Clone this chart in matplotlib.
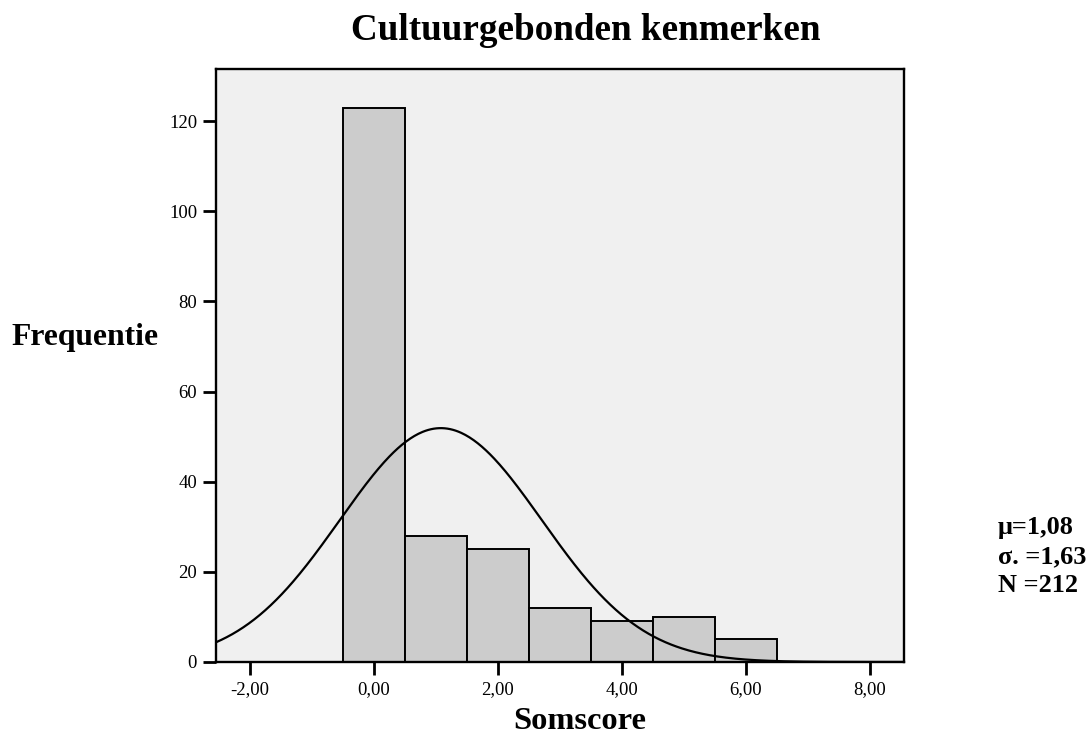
import numpy as np
import matplotlib
matplotlib.use("Agg")
import matplotlib.pyplot as plt

# data
bin_centers = [0, 1, 2, 3, 4, 5, 6]
counts = [123, 28, 25, 12, 9, 10, 5]
mu = 1.08
sigma = 1.63
n_total = 212
x_ticks = [-2, 0, 2, 4, 6, 8]
x_tick_labels = ["-2,00", "0,00", "2,00", "4,00", "6,00", "8,00"]
y_ticks = [0, 20, 40, 60, 80, 100, 120]
stats_lines = ["μ=1,08", "σ. =1,63", "N =212"]

plt.rcParams['font.family'] = ['Liberation Serif', 'DejaVu Serif']

W, H = 1090, 737
fig = plt.figure(figsize=(W / 100, H / 100), dpi=100)
ax = fig.add_axes([215.7 / W, 1 - 662 / H, (904 - 215.7) / W, (662 - 69.3) / H])
ax.set_facecolor('#F0F0F0')

ax.bar(bin_centers, counts, width=1.0, color='#CCCCCC', edgecolor='black', linewidth=1.4, zorder=2)

xs = np.linspace(-2.55, 8.55, 500)
ys = n_total * 1.0 / (sigma * np.sqrt(2 * np.pi)) * np.exp(-0.5 * ((xs - mu) / sigma) ** 2)
ax.plot(xs, ys, color='black', linewidth=1.6, zorder=3)

ax.set_xlim(-2.55, 8.55)
ax.set_ylim(0, 131.5)
ax.set_xticks(x_ticks)
ax.set_xticklabels(x_tick_labels)
ax.set_yticks(y_ticks)
ax.tick_params(axis='both', direction='out', length=9.4, width=2, labelsize=13.5, pad=4)
for s in ax.spines.values():
    s.set_linewidth(1.7)

fig.text(586 / W, 1 - 40 / H, "Cultuurgebonden kenmerken", ha='center', va='baseline',
         fontsize=26.7, fontweight='bold')
fig.text(85 / W, 1 - 345 / H, "Frequentie", ha='center', va='baseline',
         fontsize=22.8, fontweight='bold')
fig.text(580 / W, 1 - 729 / H, "Somscore", ha='center', va='baseline',
         fontsize=23.4, fontweight='bold')
for i, line in enumerate(stats_lines):
    fig.text(998 / W, 1 - (534 + 29 * i) / H, line, ha='left', va='baseline',
             fontsize=18.9, fontweight='bold')

fig.savefig("out.png", dpi=100)
